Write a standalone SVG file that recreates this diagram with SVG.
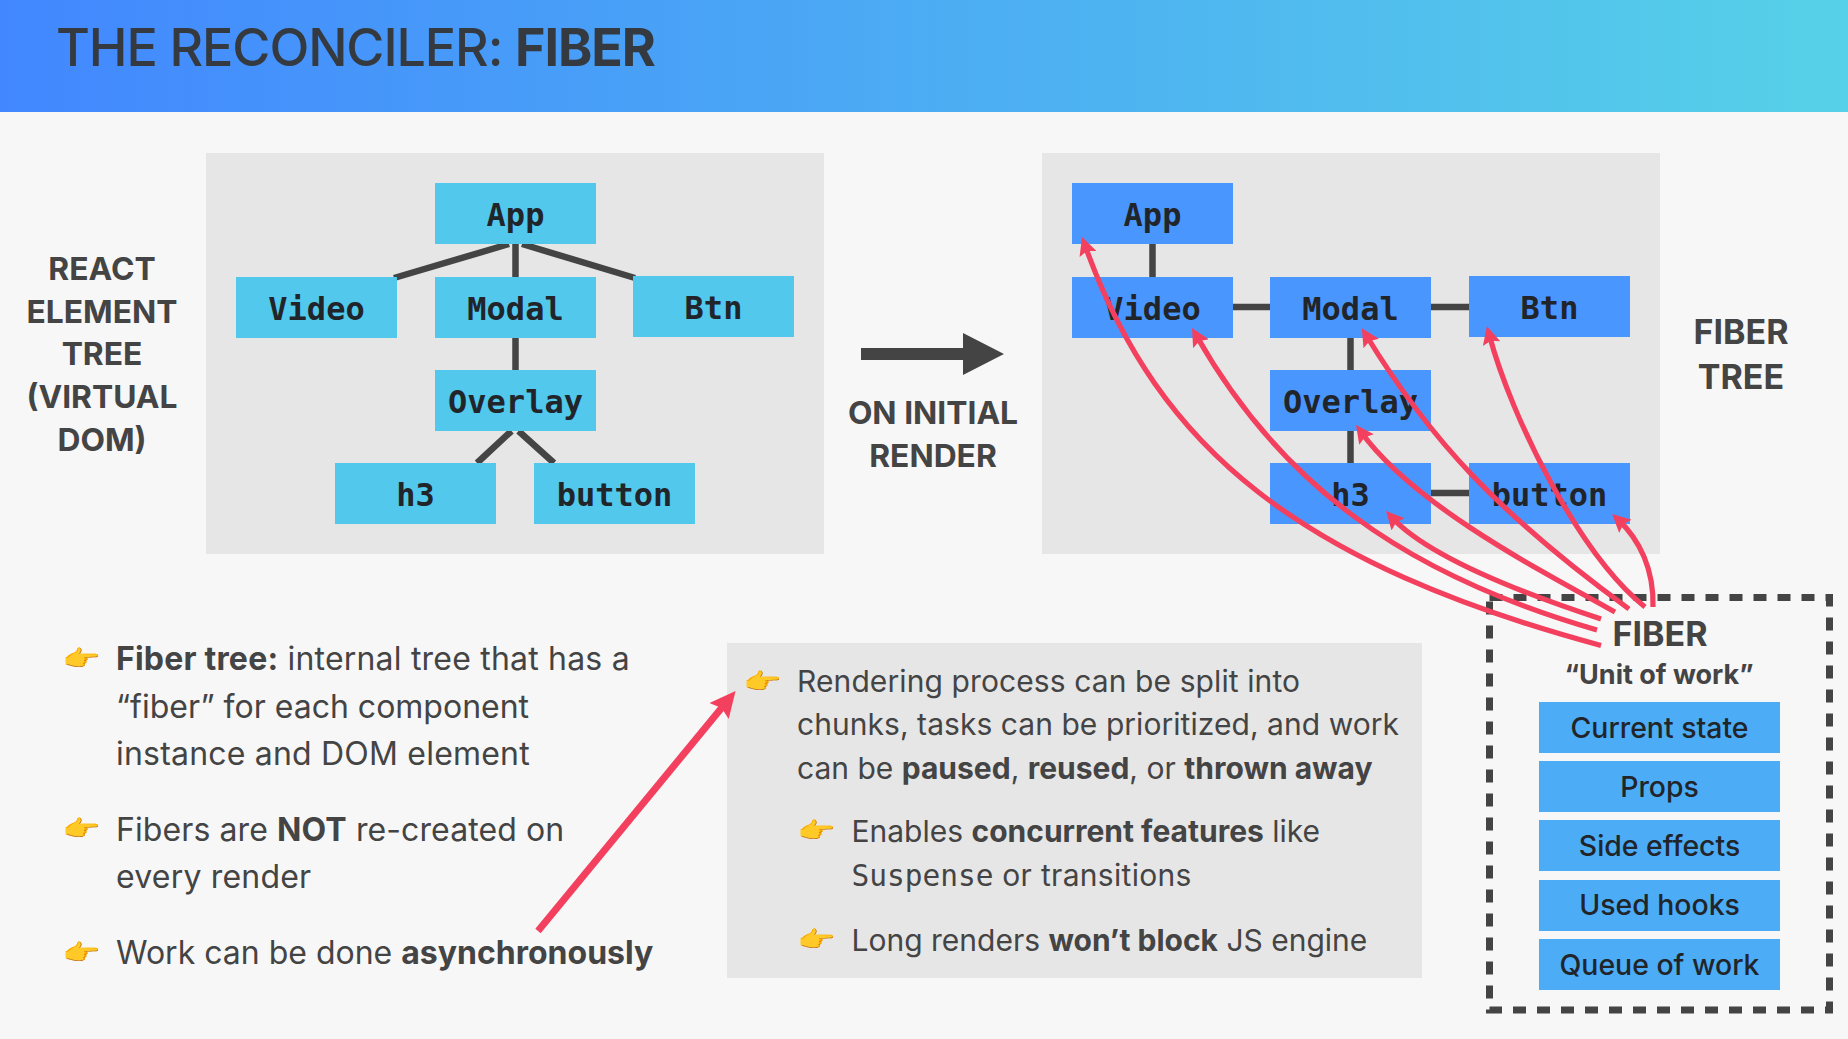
<svg xmlns="http://www.w3.org/2000/svg" width="1848" height="1039" viewBox="0 0 1848 1039">
<defs>
<linearGradient id="hdr" x1="0" y1="0" x2="1" y2="0"><stop offset="0" stop-color="#4287ff"/><stop offset="1" stop-color="#56d1e8"/></linearGradient>
<marker id="ah" markerUnits="userSpaceOnUse" markerWidth="18" markerHeight="18" refX="10" refY="9" orient="auto"><path d="M0 0 L18 9 L0 18 L3 9 Z" fill="#f4405f"/></marker>
<marker id="ab" markerUnits="userSpaceOnUse" markerWidth="26" markerHeight="25" refX="13" refY="12.500" orient="auto"><path d="M0 0 L26 12.500 L0 25 L4 12.500 Z" fill="#f4405f"/></marker>
</defs>
<style>
text{font-family:Inter,"Noto Sans",sans-serif;fill:#444}
.ti{font-size:52px;font-weight:500;fill:#343a40;letter-spacing:-1.100px}
.m{font-family:"DejaVu Sans Mono",monospace;font-weight:700;font-size:32px;fill:#212529;text-anchor:middle}
.h{font-weight:700;font-size:31.800px;text-anchor:middle}
.h2{font-size:34px}
.h3{font-size:27px}
.b{font-size:32px}
.s{font-weight:700}
.sm{font-size:30px}
.w{letter-spacing:.200px}
.x{letter-spacing:.100px}
.mo{font-family:"DejaVu Sans Mono",monospace;font-size:29.500px;letter-spacing:0}
.e{font-family:"Noto Color Emoji",Inter,sans-serif;font-size:31px}
.c{font-weight:500;font-size:28.400px;fill:#212529;text-anchor:middle}
.t{stroke:#444;stroke-width:6.500;fill:none}
.r{stroke:#f4405f;stroke-width:5.200;fill:none;marker-end:url(#ah)}
.rb{stroke:#f4405f;stroke-width:7;fill:none;marker-end:url(#ab)}
.a{fill:#51c8ec}.f{fill:#4a96ff}.u{fill:#4cacf5}
</style>
<rect width="1848" height="1039" fill="#f7f7f7"/>
<rect width="1848" height="112" fill="url(#hdr)"/>
<text class="ti" x="56" y="66">THE RECONCILER: <tspan class="s">FIBER</tspan></text>
<rect x="206" y="153" width="618" height="401" fill="#e6e6e6"/>
<rect x="1042" y="153" width="618" height="401" fill="#e6e6e6"/>
<rect x="727" y="643" width="695" height="335" fill="#e6e6e6"/>
<g id="labels">
<text class="h"><tspan x="102" y="280">REACT</tspan><tspan x="102" y="322.500">ELEMENT</tspan><tspan x="102" y="365">TREE</tspan><tspan x="102" y="408">(VIRTUAL</tspan><tspan x="102" y="451">DOM)</tspan></text>
<text class="h"><tspan x="933" y="424">ON INITIAL</tspan><tspan x="933" y="467">RENDER</tspan></text>
<text class="h h2"><tspan x="1741" y="344">FIBER</tspan><tspan x="1741" y="389">TREE</tspan></text>
</g>
<g id="connectors">
<path class="t" d="M509 244L394 278M522 244L635 278M515.500 244V277M515.500 338V370M511.500 431L477 463M518.500 431L554 463"/>
<path class="t" d="M1152.500 244V277M1233 307H1270M1431 307H1469M1350.500 338V370M1350.500 431V463M1431 493H1469"/>
<path d="M861 348H963V333L1004 354L963 375V360H861Z" fill="#444"/>
</g>
<g id="n-app"><rect class="a" x="435" y="183" width="161" height="61"/><text class="m" x="515.500" y="226">App</text></g>
<g id="n-video"><rect class="a" x="236" y="277" width="161" height="61"/><text class="m" x="316.500" y="320">Video</text></g>
<g id="n-modal"><rect class="a" x="435" y="277" width="161" height="61"/><text class="m" x="515.500" y="320">Modal</text></g>
<g id="n-btn"><rect class="a" x="633" y="276" width="161" height="61"/><text class="m" x="713.500" y="319">Btn</text></g>
<g id="n-overlay"><rect class="a" x="435" y="370" width="161" height="61"/><text class="m" x="515.500" y="413">Overlay</text></g>
<g id="n-h3"><rect class="a" x="335" y="463" width="161" height="61"/><text class="m" x="415.500" y="506">h3</text></g>
<g id="n-button"><rect class="a" x="534" y="463" width="161" height="61"/><text class="m" x="614.500" y="506">button</text></g>
<g id="f-app"><rect class="f" x="1072" y="183" width="161" height="61"/><text class="m" x="1152.500" y="226">App</text></g>
<g id="f-video"><rect class="f" x="1072" y="277" width="161" height="61"/><text class="m" x="1152.500" y="320">Video</text></g>
<g id="f-modal"><rect class="f" x="1270" y="277" width="161" height="61"/><text class="m" x="1350.500" y="320">Modal</text></g>
<g id="f-btn"><rect class="f" x="1469" y="276" width="161" height="61"/><text class="m" x="1549.500" y="319">Btn</text></g>
<g id="f-overlay"><rect class="f" x="1270" y="370" width="161" height="61"/><text class="m" x="1350.500" y="413">Overlay</text></g>
<g id="f-h3"><rect class="f" x="1270" y="463" width="161" height="61"/><text class="m" x="1350.500" y="506">h3</text></g>
<g id="f-button"><rect class="f" x="1469" y="463" width="161" height="61"/><text class="m" x="1549.500" y="506">button</text></g>
<g id="bullets-left">
<text class="e" transform="translate(62 666) scale(1 .72)">👉</text><text class="e" transform="translate(62 836) scale(1 .72)">👉</text><text class="e" transform="translate(62 960) scale(1 .72)">👉</text>
<text class="b w" y="670"><tspan x="116" class="s">Fiber tree:</tspan> internal tree that has a</text>
<text class="b" x="116" y="717.500">“fiber” for each component</text>
<text class="b w" x="116" y="764.500">instance and DOM element</text>
<text class="b x" y="841"><tspan x="116">Fibers are </tspan><tspan class="s">NOT</tspan> re-created on</text>
<text class="b w" x="116" y="888">every render</text>
<text class="b" y="964"><tspan x="116">Work can be done </tspan><tspan class="s">asynchronously</tspan></text>
</g>
<g id="bullets-right">
<text class="e" transform="translate(743 689) scale(1 .72)">👉</text><text class="e" transform="translate(797 838) scale(1 .72)">👉</text><text class="e" transform="translate(797 947) scale(1 .72)">👉</text>
<text class="b sm x" x="797" y="692">Rendering process can be split into</text>
<text class="b sm" x="797" y="735" style="letter-spacing:.05px">chunks, tasks can be prioritized, and work</text>
<text class="b sm" y="779"><tspan x="797">can be </tspan><tspan class="s">paused</tspan>, <tspan class="s">reused</tspan>, or <tspan class="s">thrown away</tspan></text>
<text class="b sm" y="841.500"><tspan x="851.500">Enables </tspan><tspan class="s">concurrent features</tspan> like</text>
<text class="b sm" y="886" style="letter-spacing:.300px"><tspan x="851.500" class="mo">Suspense</tspan> or transitions</text>
<text class="b sm" y="951"><tspan x="851.500">Long renders </tspan><tspan class="s">won’t block</tspan> JS engine</text>
</g>
<g id="fiber">
<rect x="1489.500" y="597.500" width="340" height="412.500" fill="none" stroke="#444" stroke-width="7" stroke-dasharray="13 11"/>
<text class="h h2" x="1660" y="646">FIBER</text>
<text class="h h3" x="1659" y="684">“Unit of work”</text>
<g id="c1"><rect class="u" x="1539" y="702" width="241" height="51"/><text class="c" x="1659.500" y="738">Current state</text></g>
<g id="c2"><rect class="u" x="1539" y="761" width="241" height="51"/><text class="c" x="1659.500" y="797">Props</text></g>
<g id="c3"><rect class="u" x="1539" y="820" width="241" height="51"/><text class="c" x="1659.500" y="856">Side effects</text></g>
<g id="c4"><rect class="u" x="1539" y="880" width="241" height="51"/><text class="c" x="1659.500" y="915">Used hooks</text></g>
<g id="c5"><rect class="u" x="1539" y="939" width="241" height="51"/><text class="c" x="1659.500" y="975">Queue of work</text></g>
</g>
<g id="arrows">
<path class="r" d="M1601 645.500C1303 565 1158 451 1084.700 244.500"/>
<path class="r" d="M1597 630C1402 574 1280 483 1196 335"/>
<path class="r" d="M1601 619C1485 581 1420 548 1391.400 517"/>
<path class="r" d="M1615 612C1520 560 1410 500 1360.700 431.500"/>
<path class="r" d="M1629 609C1500 515 1430 440 1366 335"/>
<path class="r" d="M1645 607C1580 555 1512 420 1489 334"/>
<path class="r" d="M1653 607C1654 570 1640 540 1618 519.500"/>
<path class="rb" d="M538 931L727.300 701"/>
</g>
</svg>
